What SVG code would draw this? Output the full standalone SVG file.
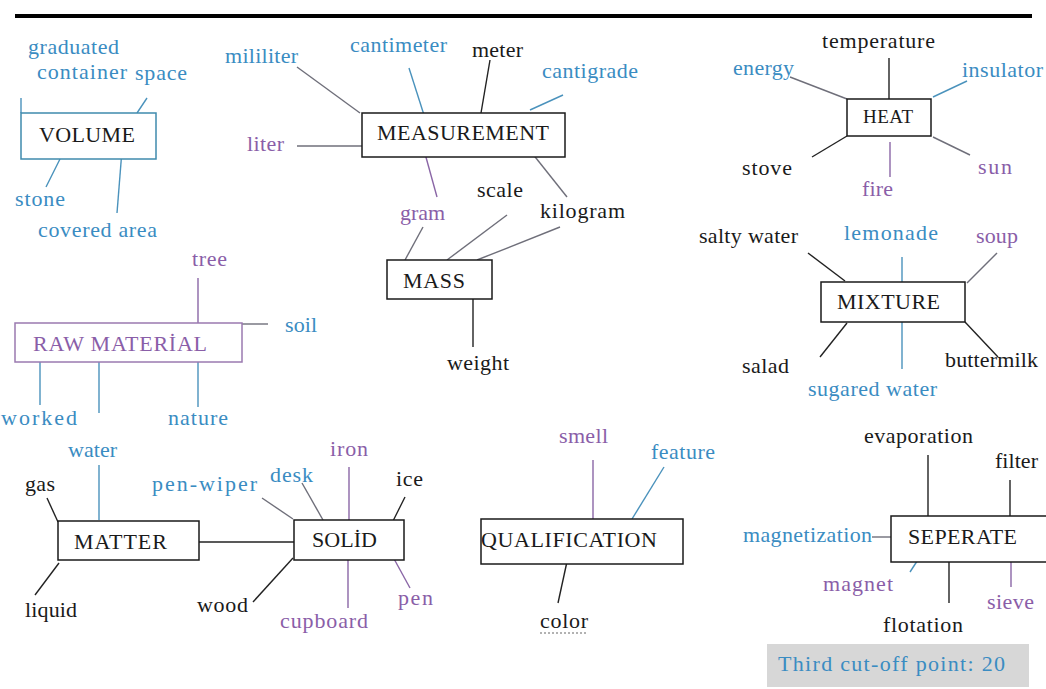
<svg xmlns="http://www.w3.org/2000/svg" width="1046" height="689" viewBox="0 0 1046 689">
<style>
text{font-family:"Liberation Serif","Times New Roman",serif;font-size:22px}
.k{fill:#1a1a1a}.b{fill:#3a8cc2}.p{fill:#8a5ea8}
.box{fill:#fff;stroke:#1a1a1a;stroke-width:1.5}
line{stroke-width:1.4}
.lk{stroke:#222}.lb{stroke:#4a92bc}.lp{stroke:#8a66a6}.lg{stroke:#6f6f7a}
</style>
<rect width="1046" height="689" fill="#fff"/>
<rect x="15" y="14" width="1017" height="4" fill="#000"/>
<g id="connectors">
<line class="lb" x1="21" y1="98" x2="21" y2="113"/>
<line class="lb" x1="137" y1="113" x2="147" y2="98"/>
<line class="lb" x1="60" y1="159" x2="46" y2="187"/>
<line class="lb" x1="122" y1="150" x2="117" y2="213"/>
<line class="lg" x1="297" y1="67" x2="360" y2="113"/>
<line class="lb" x1="409" y1="68" x2="424" y2="115"/>
<line class="lk" x1="490" y1="60" x2="481" y2="113"/>
<line class="lb" x1="563" y1="95" x2="530" y2="110"/>
<line class="lg" x1="297" y1="146" x2="362" y2="146"/>
<line class="lp" x1="424" y1="150" x2="437" y2="197"/>
<line class="lg" x1="528" y1="148" x2="567" y2="197"/>
<line class="lg" x1="423" y1="227" x2="405" y2="260"/>
<line class="lg" x1="507" y1="215" x2="447" y2="260"/>
<line class="lg" x1="560" y1="227" x2="477" y2="260"/>
<line class="lk" x1="473" y1="299" x2="473" y2="347"/>
<line class="lk" x1="889" y1="58" x2="889" y2="99"/>
<line class="lg" x1="790" y1="77" x2="847" y2="99"/>
<line class="lb" x1="967" y1="81" x2="933" y2="97"/>
<line class="lk" x1="812" y1="157" x2="847" y2="136"/>
<line class="lp" x1="890" y1="142" x2="890" y2="177"/>
<line class="lg" x1="933" y1="137" x2="970" y2="155"/>
<line class="lp" x1="198" y1="278" x2="198" y2="326"/>
<line class="lg" x1="242" y1="324" x2="268" y2="324"/>
<line class="lb" x1="40" y1="362" x2="40" y2="405"/>
<line class="lb" x1="99" y1="362" x2="99" y2="413"/>
<line class="lb" x1="198" y1="362" x2="198" y2="407"/>
<line class="lk" x1="808" y1="253" x2="845" y2="281"/>
<line class="lb" x1="902" y1="257" x2="902" y2="282"/>
<line class="lg" x1="997" y1="253" x2="967" y2="283"/>
<line class="lk" x1="820" y1="357" x2="847" y2="323"/>
<line class="lb" x1="902" y1="319" x2="902" y2="369"/>
<line class="lk" x1="965" y1="322" x2="998" y2="357"/>
<line class="lk" x1="47" y1="498" x2="58" y2="522"/>
<line class="lb" x1="99" y1="465" x2="99" y2="520"/>
<line class="lk" x1="59" y1="563" x2="35" y2="595"/>
<line class="lk" x1="199" y1="542" x2="294" y2="542"/>
<line class="lg" x1="262" y1="498" x2="293" y2="519"/>
<line class="lg" x1="302" y1="483" x2="323" y2="520"/>
<line class="lp" x1="349" y1="467" x2="349" y2="520"/>
<line class="lk" x1="405" y1="497" x2="392" y2="523"/>
<line class="lp" x1="393" y1="557" x2="410" y2="588"/>
<line class="lp" x1="348" y1="556" x2="348" y2="608"/>
<line class="lk" x1="253" y1="602" x2="293" y2="558"/>
<line class="lp" x1="593" y1="460" x2="593" y2="519"/>
<line class="lb" x1="664" y1="467" x2="632" y2="519"/>
<line class="lk" x1="568" y1="557" x2="558" y2="603"/>
<line class="lk" x1="928" y1="455" x2="928" y2="516"/>
<line class="lk" x1="1010" y1="480" x2="1010" y2="516"/>
<line class="lg" x1="872" y1="537" x2="895" y2="537"/>
<line class="lb" x1="923" y1="552" x2="910" y2="572"/>
<line class="lk" x1="949" y1="553" x2="949" y2="603"/>
<line class="lp" x1="1011" y1="553" x2="1011" y2="587"/>
</g>
<g id="volume">
<rect x="21" y="113" width="135" height="46" fill="#fff" stroke="#3f8aad" stroke-width="1.5"/>
<text class="k" x="39" y="142" textLength="96">VOLUME</text>
<text class="b" x="28" y="54" textLength="91">graduated</text>
<text class="b" x="37" y="79" textLength="90">container</text>
<text class="b" x="135" y="80" textLength="52">space</text>
<text class="b" x="15" y="206" textLength="50">stone</text>
<text class="b" x="38" y="237" textLength="119">covered area</text>
</g>
<g id="measurement">
<rect class="box" x="362" y="113" width="203" height="44"/>
<text class="k" x="377" y="140" textLength="172">MEASUREMENT</text>
<text class="b" x="225" y="63" textLength="73">mililiter</text>
<text class="b" x="350" y="52" textLength="97">cantimeter</text>
<text class="k" x="472" y="57" textLength="51">meter</text>
<text class="b" x="542" y="78" textLength="96">cantigrade</text>
<text class="p" x="247" y="151" textLength="37">liter</text>
</g>
<g id="mass">
<rect class="box" x="387" y="260" width="105" height="39"/>
<text class="k" x="403" y="288" textLength="62">MASS</text>
<text class="p" x="400" y="220" textLength="45">gram</text>
<text class="k" x="477" y="197" textLength="46">scale</text>
<text class="k" x="540" y="218" textLength="85">kilogram</text>
<text class="k" x="447" y="370" textLength="62">weight</text>
</g>
<g id="heat">
<rect class="box" x="847" y="99" width="84" height="37"/>
<text class="k" x="863" y="123" style="font-size:19px" textLength="50">HEAT</text>
<text class="k" x="822" y="48" textLength="113">temperature</text>
<text class="b" x="733" y="75" textLength="61">energy</text>
<text class="b" x="962" y="77" textLength="81">insulator</text>
<text class="k" x="742" y="175" textLength="50">stove</text>
<text class="p" x="862" y="196" textLength="31">fire</text>
<text class="p" x="978" y="174" textLength="34">sun</text>
</g>
<g id="raw-material">
<rect x="15" y="323" width="227" height="39" fill="#fff" stroke="#9a7ab0" stroke-width="1.5"/>
<text class="p" x="33" y="351" textLength="174">RAW MATERİAL</text>
<text class="p" x="192" y="266" textLength="35">tree</text>
<text class="b" x="285" y="332" textLength="32">soil</text>
<text class="b" x="1" y="425" textLength="76">worked</text>
<text class="b" x="168" y="425" textLength="60">nature</text>
</g>
<g id="mixture">
<rect class="box" x="821" y="282" width="144" height="40"/>
<text class="k" x="837" y="309" textLength="103">MIXTURE</text>
<text class="k" x="699" y="243" textLength="99">salty water</text>
<text class="b" x="844" y="240" textLength="94">lemonade</text>
<text class="p" x="976" y="243" textLength="42">soup</text>
<text class="k" x="742" y="373" textLength="47">salad</text>
<text class="k" x="945" y="367" textLength="93">buttermilk</text>
<text class="b" x="808" y="396" textLength="129">sugared water</text>
</g>
<g id="matter">
<rect class="box" x="58" y="521" width="141" height="39"/>
<text class="k" x="74" y="549" textLength="93">MATTER</text>
<text class="b" x="68" y="457" textLength="49">water</text>
<text class="k" x="25" y="491" textLength="30">gas</text>
<text class="k" x="25" y="617" textLength="52">liquid</text>
</g>
<g id="solid">
<rect class="box" x="294" y="520" width="110" height="40"/>
<text class="k" x="312" y="547" textLength="65">SOLİD</text>
<text class="b" x="152" y="491" textLength="105">pen-wiper</text>
<text class="b" x="270" y="482" textLength="43">desk</text>
<text class="p" x="330" y="456" textLength="38">iron</text>
<text class="k" x="396" y="486" textLength="27">ice</text>
<text class="k" x="197" y="612" textLength="51">wood</text>
<text class="p" x="280" y="628" textLength="88">cupboard</text>
<text class="p" x="398" y="605" textLength="35">pen</text>
</g>
<g id="qualification">
<rect class="box" x="481" y="519" width="202" height="45"/>
<text class="k" x="481" y="547" textLength="176">QUALIFICATION</text>
<text class="p" x="559" y="443" textLength="49">smell</text>
<text class="b" x="651" y="459" textLength="64">feature</text>
<text class="k" x="540" y="628" textLength="48">color</text>
<line x1="540" y1="633" x2="588" y2="633" stroke="#999" stroke-width="1" stroke-dasharray="2 2"/>
</g>
<g id="seperate">
<rect class="box" x="891" y="516" width="160" height="46"/>
<text class="k" x="908" y="544" textLength="109">SEPERATE</text>
<text class="k" x="864" y="443" textLength="109">evaporation</text>
<text class="k" x="995" y="468" textLength="43">filter</text>
<text class="b" x="743" y="542" textLength="129">magnetization</text>
<text class="p" x="823" y="591" textLength="70">magnet</text>
<text class="p" x="987" y="609" textLength="47">sieve</text>
<text class="k" x="883" y="632" textLength="80">flotation</text>
</g>
<g id="cutoff">
<rect x="767" y="644" width="262" height="43" fill="#d7d7d7"/>
<text class="b" x="778" y="671" textLength="227">Third cut-off point: 20</text>
</g>
</svg>
